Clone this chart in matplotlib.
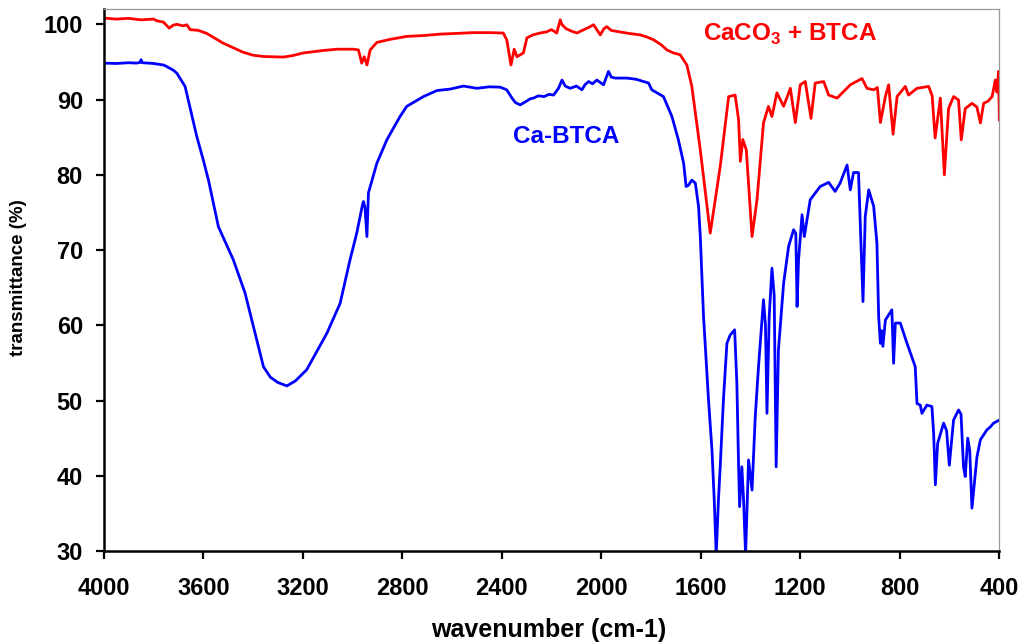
import matplotlib
matplotlib.use("Agg")
import matplotlib.pyplot as plt

plt.rcParams["font.family"] = ["Liberation Sans", "DejaVu Sans"]
plt.rcParams["font.weight"] = "bold"
plt.rcParams["mathtext.fontset"] = "custom"
plt.rcParams["mathtext.bf"] = "Liberation Sans:bold"
plt.rcParams["mathtext.rm"] = "Liberation Sans:bold"

# ---------- data ----------
red_wn = [4000, 3950, 3900, 3850, 3800, 3787, 3760, 3737, 3720, 3706, 3680, 3666, 3653,
          3620, 3586, 3550, 3520, 3480, 3440, 3400, 3359, 3279, 3240, 3198, 3150, 3118,
          3060, 2997, 2976, 2963, 2953, 2942, 2929, 2902, 2850, 2782, 2720, 2648, 2580,
          2515, 2450, 2394, 2380, 2363, 2350, 2339, 2313, 2299, 2275, 2246, 2220, 2200,
          2179, 2170, 2165, 2158, 2140, 2120, 2098, 2070, 2050, 2031, 2018, 2004, 1990,
          1978, 1960, 1937, 1890, 1844, 1815, 1790, 1760, 1736, 1710, 1683, 1656, 1636,
          1602, 1562, 1522, 1488, 1462, 1448, 1441, 1431, 1417, 1394, 1374, 1348, 1328,
          1314, 1294, 1267, 1240, 1220, 1200, 1180, 1157, 1140, 1106, 1086, 1052, 999,
          952, 932, 905, 890, 878, 858, 845, 827, 811, 778, 765, 731, 684, 670, 658, 637,
          621, 604, 584, 564, 553, 537, 510, 490, 476, 463, 445, 429, 416, 410, 403, 400]
red_t = [100.84, 100.7, 100.8, 100.6, 100.7, 100.48, 100.3, 99.5, 99.9, 100.0, 99.8, 99.95,
         99.3, 99.2, 98.8, 98.1, 97.5, 96.9, 96.3, 95.9, 95.73, 95.65, 95.85, 96.2, 96.4,
         96.53, 96.7, 96.7, 96.6, 94.85, 95.7, 94.6, 96.6, 97.6, 98.0, 98.4, 98.5, 98.7,
         98.8, 98.9, 98.9, 98.85, 97.95, 94.6, 96.7, 95.7, 96.2, 98.2, 98.6, 98.85, 99.0,
         99.3, 98.85, 100.0, 100.6, 99.95, 99.4, 99.1, 98.85, 99.3, 99.6, 99.95, 99.3,
         98.6, 99.4, 99.7, 99.2, 99.06, 98.8, 98.6, 98.3, 97.95, 97.3, 96.6, 96.2, 95.96,
         94.6, 91.75, 83.3, 72.25, 81.1, 90.4, 90.6, 87.3, 81.8, 84.7, 83.3, 71.8, 76.7,
         86.9, 89.1, 87.75, 90.9, 89.1, 91.5, 86.95, 91.97, 92.4, 87.5, 92.2, 92.4, 90.6,
         90.2, 91.97, 92.8, 91.5, 91.3, 91.6, 86.95, 90.4, 91.97, 85.4, 90.4, 91.75, 90.6,
         91.5, 91.75, 90.5, 84.9, 90.2, 80.0, 88.8, 90.4, 89.95, 84.65, 88.8, 89.5, 89.0,
         86.9, 89.5, 89.8, 90.4, 92.6, 91.0, 93.75, 87.3]

blue_wn = [4000, 3950, 3900, 3870, 3854, 3850, 3845, 3800, 3760, 3747, 3720, 3706, 3673,
           3653, 3626, 3600, 3579, 3539, 3479, 3432, 3398, 3358, 3330, 3300, 3264, 3230,
           3184, 3103, 3050, 3010, 2983, 2960, 2956, 2950, 2942, 2936, 2902, 2862, 2809,
           2782, 2715, 2661, 2607, 2554, 2500, 2450, 2406, 2380, 2359, 2345, 2326, 2300,
           2286, 2273, 2253, 2230, 2210, 2192, 2172, 2158, 2145, 2125, 2100, 2078, 2065,
           2051, 2035, 2018, 2005, 1991, 1971, 1960, 1944, 1897, 1860, 1830, 1810, 1797,
           1750, 1716, 1690, 1669, 1659, 1650, 1636, 1622, 1609, 1602, 1589, 1569, 1555,
           1546, 1538, 1529, 1522, 1509, 1495, 1482, 1464, 1455, 1448, 1444, 1435, 1428,
           1420, 1408, 1394, 1381, 1368, 1348, 1340, 1334, 1325, 1314, 1305, 1297, 1288,
           1267, 1247, 1227, 1218, 1213, 1207, 1193, 1184, 1160, 1120, 1086, 1060, 1040,
           1012, 999, 986, 966, 948, 939, 925, 905, 892, 885, 878, 874, 868, 858, 832, 825,
           818, 798, 771, 738, 731, 718, 711, 691, 671, 664, 657, 648, 624, 612, 601, 584,
           564, 554, 544, 537, 527, 519, 510, 490, 476, 450, 436, 423, 400]
blue_t = [94.85, 94.8, 94.9, 94.85, 94.93, 95.3, 94.9, 94.8, 94.6, 94.4, 93.9, 93.5, 91.75,
          88.9, 85.1, 82.0, 79.3, 73.1, 68.7, 64.3, 59.8, 54.5, 53.1, 52.4, 51.95, 52.6,
          54.1, 58.95, 62.9, 68.7, 72.25, 76.0, 76.45, 75.7, 71.8, 77.6, 81.55, 84.65,
          87.75, 89.1, 90.4, 91.2, 91.4, 91.8, 91.5, 91.7, 91.65, 91.3, 90.2, 89.6, 89.3,
          89.8, 90.1, 90.2, 90.5, 90.4, 90.7, 90.6, 91.5, 92.6, 91.8, 91.5, 91.8, 91.3,
          92.0, 92.4, 92.1, 92.6, 92.3, 91.97, 93.75, 93.0, 92.86, 92.86, 92.7, 92.4,
          92.2, 91.3, 90.4, 87.75, 84.65, 81.55, 78.45, 78.6, 79.3, 78.9, 75.8, 71.8,
          61.15, 50.1, 43.4, 36.8, 29.5, 36.8, 41.2, 50.1, 57.6, 58.7, 59.4, 52.3, 41.2,
          35.9, 41.2, 36.8, 29.5, 42.1, 38.1, 47.9, 54.5, 63.4, 60.0, 48.3, 61.15, 67.6,
          64.0, 41.2, 56.7, 65.6, 70.5, 72.7, 72.2, 62.5, 68.7, 74.7, 71.8, 76.7, 78.45,
          79.0, 77.8, 78.9, 81.3, 78.0, 80.3, 80.3, 63.15, 74.45, 78.0, 75.8, 70.9, 61.15,
          57.6, 59.3, 57.2, 60.7, 62.05, 54.95, 60.3, 60.3, 57.6, 54.5, 49.6, 49.4, 48.3,
          49.4, 49.2, 45.65, 38.8, 44.3, 47.0, 46.0, 41.4, 47.4, 48.75, 48.2, 41.2, 39.9,
          45.0, 43.4, 35.7, 42.5, 44.8, 46.1, 46.5, 47.0, 47.4]

x_ticks = [4000, 3600, 3200, 2800, 2400, 2000, 1600, 1200, 800, 400]
y_ticks = [30, 40, 50, 60, 70, 80, 90, 100]

# ---------- figure ----------
fig = plt.figure(figsize=(10.24, 6.42), dpi=100)
ax = fig.add_axes([0.1013, 0.1417, 0.8746, 0.8438])

ax.plot(red_wn, red_t, color="#FF0000", lw=2.0, solid_joinstyle="round")
ax.plot(blue_wn, blue_t, color="#0000FF", lw=2.0, solid_joinstyle="round")

ax.set_xlim(4000, 400)
ax.set_ylim(30, 102)
ax.set_xticks(x_ticks)
ax.set_yticks(y_ticks)
ax.tick_params(direction="out", length=6, width=1.6, labelsize=17)
ax.tick_params(axis="x", pad=13)
ax.tick_params(axis="y", pad=9)
for lab in ax.get_xticklabels() + ax.get_yticklabels():
    lab.set_fontweight("bold")

for side in ("left", "bottom"):
    ax.spines[side].set_linewidth(1.8)
    ax.spines[side].set_color("black")
for side in ("top", "right"):
    ax.spines[side].set_linewidth(0.9)
    ax.spines[side].set_color("#999999")

ax.set_xlabel("wavenumber (cm-1)", fontsize=18, fontweight="bold", va="center")
ax.xaxis.set_label_coords(0.497, -0.146)
ax.set_ylabel("transmittance (%)", fontsize=13.5, fontweight="bold", va="center")
ax.yaxis.set_label_coords(-0.0957, 0.505)

ax.text(1590, 98.6, r"CaCO$_\mathbf{3}$ + BTCA", color="#FF0000", fontsize=17.5,
        fontweight="bold", ha="left", va="center")
ax.text(2353, 85.05, "Ca-BTCA", color="#0000FF", fontsize=17.5,
        fontweight="bold", ha="left", va="center")

fig.savefig("out.png", dpi=100)
